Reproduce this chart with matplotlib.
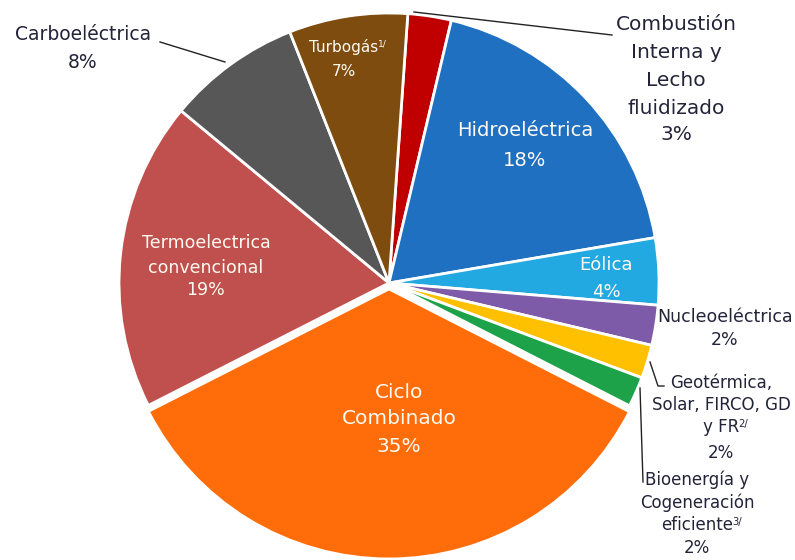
import matplotlib
matplotlib.use("Agg")
import matplotlib.pyplot as plt

plt.rcParams['font.family'] = ['DejaVu Sans']

categories = ["Combustión Interna y Lecho fluidizado", "Hidroeléctrica", "Eólica",
              "Nucleoeléctrica", "Geotérmica, Solar, FIRCO, GD y FR", "Bioenergía y Cogeneración eficiente",
              "Ciclo Combinado", "Termoelectrica convencional", "Carboeléctrica", "Turbogás"]
values = [2.6, 18.6, 4.0, 2.4, 2.0, 1.8, 35.0, 18.5, 8.0, 7.1]
shown_pct = [3, 18, 4, 2, 2, 2, 35, 19, 8, 7]
colors = ["#C00000", "#1F70C1", "#23A9E1", "#7E5BA8", "#FFC000", "#1DA24A",
          "#FF6D0A", "#C0504D", "#575757", "#7F4C0F"]
explode = [0, 0, 0, 0, 0, 0, 0.022, 0, 0, 0]

W, H = 795, 560
CX, CY, R = 389, 283, 270

fig = plt.figure(figsize=(W/100, H/100), dpi=100)
ax = fig.add_axes([0, 0, 1, 1])

ax.pie(values, colors=colors, startangle=86, counterclock=False, explode=explode,
       radius=1.0, wedgeprops=dict(edgecolor='white', linewidth=2))
ax.set_xlim(-CX/R, (W-CX)/R)
ax.set_ylim((CY-H)/R, CY/R)
ax.set_aspect('auto')
ax.axis('off')

def P(px, py):
    return ((px-CX)/R, (CY-py)/R)

dark = "#23233a"
white = "#fffaf2"

def label(px, ys, lines, color=dark, size=13, sups=None, weight='normal'):
    sups = sups or {}
    for i, (s, py) in enumerate(zip(lines, ys)):
        t = ax.text(*P(px, py), s, ha='center', va='center', color=color,
                    fontsize=size, fontweight=weight)
        if i in sups:
            ax.annotate(sups[i], xy=(1.0, 1.0), xycoords=t, xytext=(-0.5, -0.5),
                        textcoords='offset points', ha='left', va='top',
                        fontsize=size*0.6, color=color, fontweight=weight)

def line(pts):
    xs, ys = zip(*[P(a, b) for a, b in pts])
    ax.plot(xs, ys, color='#222222', lw=1)

label(83, [35, 62], ["Carboeléctrica", f"{shown_pct[8]}%"], size=13.5)
line([(160, 42), (225, 62)])

label(344, [47, 72], ["Turbogás", f"{shown_pct[9]}%"], color=white, size=11, sups={0: "1/"})

label(676, [25, 52, 80, 108, 135],
      ["Combustión", "Interna y", "Lecho", "fluidizado", f"{shown_pct[0]}%"], size=14.5)
line([(414, 12), (612, 35)])

label(525, [131, 160], ["Hidroeléctrica", f"{shown_pct[1]}%"], color=white, size=14)
label(606, [265, 292], ["Eólica", f"{shown_pct[2]}%"], color=white, size=13)
label(725, [317, 340], ["Nucleoeléctrica", f"{shown_pct[3]}%"], size=12.5)

label(721, [383, 405, 427, 453],
      ["Geotérmica,", "Solar, FIRCO, GD", "y FR", f"{shown_pct[4]}%"], size=12, sups={2: "2/"})
line([(650, 362), (658, 386), (664, 386)])

label(697, [480, 503, 525, 548],
      ["Bioenergía y", "Cogeneración", "eficiente", f"{shown_pct[5]}%"], size=12, sups={2: "3/"})
line([(640, 388), (643, 482)])

label(399, [393, 419, 447], ["Ciclo", "Combinado", f"{shown_pct[6]}%"], color=white, size=14.5)
label(206, [243, 268, 290], ["Termoelectrica", "convencional", f"{shown_pct[7]}%"],
      color=white, size=12.5)

fig.savefig("out.png", dpi=100, facecolor='white')
